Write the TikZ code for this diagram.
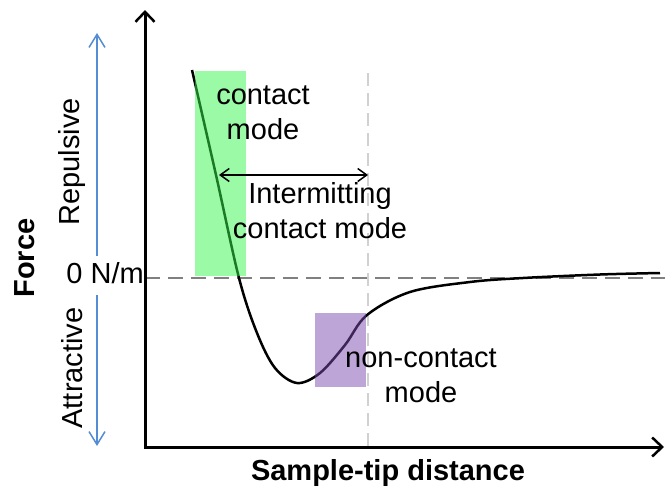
\documentclass[tikz,border=0pt]{standalone}
\usepackage{fontspec}
\setmainfont{Liberation Sans}
\usetikzlibrary{arrows.meta}

\definecolor{regimeblue}{RGB}{84,141,212}
\definecolor{contactgreen}{RGB}{55,245,75}
\definecolor{noncontactpurple}{RGB}{125,75,175}

\begin{document}
\begin{tikzpicture}[
		x=1pt, y=-1pt,
		axis/.style={line width=3pt, {Straight Barb[length=10pt, width=19pt, line width=2.5pt]}-{Straight Barb[length=10pt, width=19pt, line width=2.5pt]}},
		regime/.style={line width=1.5pt, draw=regimeblue, -{Straight Barb[length=13pt, width=16pt, line width=1.5pt]}},
		zeroline/.style={line width=2pt, draw=black!50, dash pattern=on 15pt off 8pt},
		gapline/.style={line width=1.5pt, draw=black!18, dash pattern=on 13pt off 7pt},
		curve/.style={line width=2.5pt, line join=round},
		modebox/.style={fill opacity=0.5},
		label_text/.style={font=\fontsize{29}{35}\selectfont, align=center, inner sep=0pt},
		axis_text/.style={font=\fontsize{29}{35}\selectfont\bfseries, inner sep=0pt}
		]
		\useasboundingbox (0,0) rectangle (665,491);
		
		% Axes
		\coordinate (origin) at (145,447);
		\coordinate (ftop) at (145,10);
		\coordinate (dend) at (664,447);
		\coordinate (zleft) at (145,278);
		\coordinate (zright) at (665,278);
		\coordinate (gaptop) at (368,73);
		\coordinate (gapbottom) at (368,447);
		
		\draw[gapline] (gaptop) -- (gapbottom);
		\draw[zeroline] (zleft) -- (zright);
		
		% Force curve
		\draw[curve] plot[smooth, tension=0.55] coordinates {(192,70) (216,175) (239,278) (257,333) (275,368) (297,383) (320,373) (345,345) (367,315) (410,292) (470,282) (523,278) (600,274.5) (660,273)};
		
		% Mode regions
		\fill[modebox, contactgreen] (195,71) rectangle (246,276);
		\fill[modebox, noncontactpurple] (315,313) rectangle (366,387);
		
		\draw[axis] (ftop) -- (origin) -- (dend);
		
		% Repulsive / attractive arrows
		\coordinate (rstart) at (97,256);
		\coordinate (rend) at (97,33);
		\coordinate (astart) at (97,295);
		\coordinate (aend) at (97,446);
		\draw[regime] (rstart) -- (rend);
		\draw[regime] (astart) -- (aend);
		
		% Intermitting range
		\coordinate (istart) at (219,175);
		\coordinate (iend) at (368,175);
		\draw[line width=1.5pt, {Straight Barb[length=9pt, width=13pt, line width=1.5pt]}-{Straight Barb[length=9pt, width=13pt, line width=1.5pt]}] (istart) -- (iend);
		
		% Labels
		\node[axis_text, rotate=90] (force) at (25,258) {Force};
		\node[axis_text] (dist) at (388,473) {Sample-tip distance};
		\node[label_text, rotate=90] (rep) at (72,162) {Repulsive};
		\node[label_text, rotate=90] (att) at (72,368) {Attractive};
		\node[label_text, anchor=base east] (zero) at (144,283) {0 N/m};
		\node[label_text, anchor=base] (contact) at (263,139) {contact\\mode};
		\node[label_text, anchor=base] (inter) at (320,238) {Intermitting\\contact mode};
		\node[label_text, anchor=base] (noncontact) at (421,402) {non-contact\\mode};
		
	\end{tikzpicture}
\end{document}
